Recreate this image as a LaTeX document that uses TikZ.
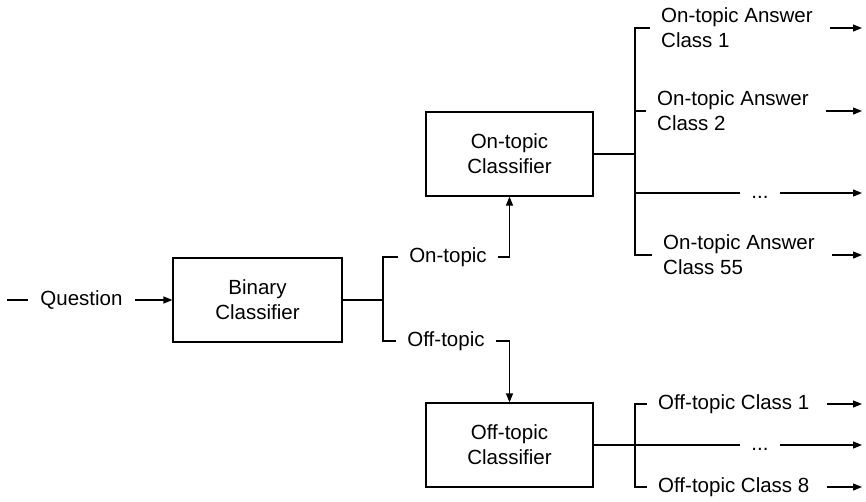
\documentclass[tikz,border=0pt]{standalone}
\usepackage{fontspec}
\setmainfont{Liberation Sans}
\usetikzlibrary{arrows.meta}
\begin{document}
\begin{tikzpicture}[x=1pt,y=-1pt,
  every node/.style={font=\fontsize{20.5}{25}\selectfont},
  ln/.style={line width=1.2pt},
  arr/.style={ln,-{Triangle[length=9pt,width=7pt]}},
  outarr/.style={arr,shorten <=6pt},
  box/.style={draw,ln,minimum width=167pt,minimum height=84pt,align=center,inner sep=0pt},
  lbl/.style={inner ysep=0pt,inner xsep=11pt},
  blk/.style={lbl,align=left,anchor=west},
  dotlbl/.style={inner xsep=11pt,text height=14pt,text depth=4pt}]
\useasboundingbox (0,0) rectangle (866,501);
% boxes
\node[box,minimum width=169pt] (bin) at (257.5,300) {Binary\\Classifier};
\node[box] (on) at (509.5,154) {On-topic\\Classifier};
\node[box] (off) at (509.5,445) {Off-topic\\Classifier};
% question input
\node[lbl,inner xsep=12pt] (q) at (81.5,300) {Question};
\coordinate (qs) at (7,300);
\draw[ln] (qs) -- (q.west);
\draw[arr] (q.east) -- (bin.west);
% binary split
\coordinate (j1) at (383,300);
\node[lbl] (ont) at (448,257) {On-topic};
\node[lbl] (offt) at (446,341) {Off-topic};
\draw[ln] (bin.east) -- (j1);
\draw[ln] (j1) |- (ont.west);
\draw[ln] (j1) |- (offt.west);
\draw[arr] (ont.east) -| (on.south);
\draw[arr] (offt.east) -| (off.north);
% end column
\coordinate (xe) at (862,0);
% on-topic outputs
\coordinate (j2) at (635,154);
\draw[ln] (on.east) -- (j2);
\node[blk] (a1) at (650,28) {On-topic Answer\\Class 1};
\node[blk] (a2) at (646,111) {On-topic Answer\\Class 2};
\node[dotlbl] (d1) at (760,193) {...};
\node[blk] (a55) at (652,255) {On-topic Answer\\Class 55};
\draw[ln] (j2) |- (a1.west);
\draw[ln] (j2) |- (a2.west);
\draw[ln] (j2) |- (d1.west);
\draw[ln] (j2) |- (a55.west);
\draw[outarr] (a1.east) -- (a1.east -| xe);
\draw[outarr] (a2.east) -- (a2.east -| xe);
\draw[arr] (d1.east) -- (d1.east -| xe);
\draw[outarr] (a55.east) -- (a55.east -| xe);
% off-topic outputs
\coordinate (j3) at (635,445);
\node[lbl,anchor=west] (o1) at (647,404) {Off-topic Class 1};
\node[dotlbl] (d2) at (760,445) {...};
\node[lbl,anchor=west] (o8) at (647,487) {Off-topic Class 8};
\draw[ln] (off.east) -- (d2.west);
\draw[ln] (j3) |- (o1.west);
\draw[ln] (j3) |- (o8.west);
\draw[outarr] (o1.east) -- (o1.east -| xe);
\draw[arr] (d2.east) -- (d2.east -| xe);
\draw[outarr] (o8.east) -- (o8.east -| xe);
\end{tikzpicture}
\end{document}
